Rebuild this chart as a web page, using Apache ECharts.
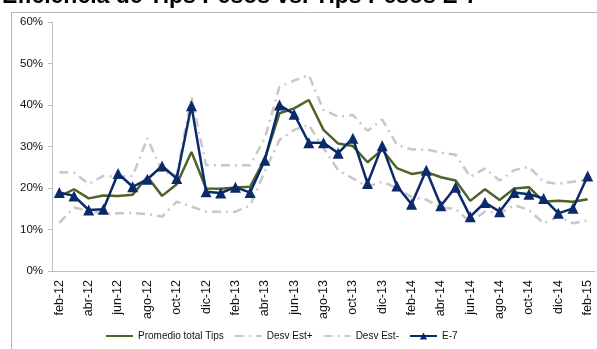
<!DOCTYPE html>
<html>
<head>
<meta charset="utf-8">
<script src="https://cdn.jsdelivr.net/npm/echarts@6/dist/echarts.min.js"></script>
<style>
  html, body { margin: 0; padding: 0; background: #fff; }
  #chart { width: 597px; height: 349px; }
</style>
</head>
<body>
<div id="chart"></div>
<script>
  const months = ['feb-12','mar-12','abr-12','may-12','jun-12','jul-12','ago-12','sep-12','oct-12','nov-12','dic-12',
    'ene-13','feb-13','mar-13','abr-13','may-13','jun-13','jul-13','ago-13','sep-13','oct-13','nov-13','dic-13',
    'ene-14','feb-14','mar-14','abr-14','may-14','jun-14','jul-14','ago-14','sep-14','oct-14','nov-14','dic-14',
    'ene-15','feb-15'];

  const promedio = [17.9,19.7,17.5,18.2,18.1,18.4,22.7,18.1,20.9,28.7,19.9,19.8,20.1,20.3,27.0,38.0,39.2,41.2,34.0,30.7,
    30.1,26.2,29.2,24.8,23.4,23.9,22.6,21.8,16.9,19.7,17.1,19.9,20.2,16.7,16.9,16.7,17.3];
  const desvMas = [23.8,23.7,21.0,22.9,22.7,22.9,32.0,23.9,23.1,42.0,25.5,25.5,25.5,25.5,32.0,44.4,45.9,47.2,38.8,37.2,
    37.6,33.8,36.5,30.4,29.3,29.3,28.5,28.0,22.7,24.7,21.8,24.3,25.1,21.5,21.0,21.5,22.0];
  const desvMenos = [11.6,15.3,14.5,13.8,13.9,14.0,13.7,13.1,16.7,15.5,14.3,14.3,14.3,15.8,24.0,31.6,34.0,35.2,29.6,24.3,
    22.3,20.3,21.5,20.0,17.8,17.2,15.2,15.0,11.8,14.3,13.9,15.9,14.7,11.5,13.1,11.5,12.2];
  const e7 = [18.9,18.1,14.7,14.9,23.5,20.3,22.1,25.3,22.3,39.8,19.1,18.8,20.2,18.9,26.7,40.0,37.8,30.9,30.9,28.4,
    32.0,21.1,30.2,20.5,16.1,24.3,15.7,20.2,13.1,16.5,14.3,18.9,18.5,17.5,13.9,15.1,22.9];

  const font = '"Liberation Sans", Arial, sans-serif';
  const gray = '#c8c8c8';
  const navy = '#0b2a6a';
  const dashDot = [9, 5, 2, 5];

  const chart = echarts.init(document.getElementById('chart'));
  chart.setOption({
    animation: false,
    graphic: [
      { type: 'rect', shape: { x: 11.5, y: 12.5, width: 700, height: 500 },
        style: { fill: 'none', stroke: '#b4b4b4', lineWidth: 1 }, silent: true },
      // title is cut off by the top edge, as in the original picture
      { type: 'text', x: 2, y: 8,
        style: { text: 'Eficiencia de Tips Pesos vs. Tips Pesos E-7', fill: '#000',
          font: 'bold 23px "Liberation Sans", Arial, sans-serif', verticalAlign: 'bottom' } }
    ],
    grid: { left: 52, right: 2, top: 22, bottom: 78 },
    legend: {
      left: 100, top: 326, itemWidth: 27, itemHeight: 9, itemGap: 10,
      textStyle: { fontFamily: font, fontSize: 10, color: '#111' },
      data: [
        { name: 'Promedio total Tips', itemStyle: { opacity: 0 } },
        { name: 'Desv Est+', itemStyle: { opacity: 0 } },
        { name: 'Desv Est-', itemStyle: { opacity: 0 } },
        { name: 'E-7' }
      ]
    },
    xAxis: {
      type: 'category',
      data: months,
      axisLine: { lineStyle: { color: '#bfbfbf', width: 1 } },
      axisTick: { interval: 1, length: 4, lineStyle: { color: '#bfbfbf' } },
      axisLabel: { interval: 1, rotate: 90, margin: 9, fontFamily: font, fontSize: 12.5, color: '#111' }
    },
    yAxis: {
      type: 'value', min: 0, max: 60, interval: 10,
      axisLine: { show: true, lineStyle: { color: '#bfbfbf', width: 1 } },
      axisTick: { show: true, length: 4, lineStyle: { color: '#bfbfbf' } },
      splitLine: { show: false },
      axisLabel: { formatter: '{value}%', margin: 9, fontFamily: font, fontSize: 11.5, color: '#111' }
    },
    series: [
      { name: 'Promedio total Tips', type: 'line', data: promedio, symbol: 'none',
        lineStyle: { color: '#4f6228', width: 2.5 }, itemStyle: { color: '#4f6228' } },
      { name: 'Desv Est+', type: 'line', data: desvMas, symbol: 'none',
        lineStyle: { color: gray, width: 2.5, type: dashDot }, itemStyle: { color: gray } },
      { name: 'Desv Est-', type: 'line', data: desvMenos, symbol: 'none',
        lineStyle: { color: gray, width: 2.5, type: dashDot }, itemStyle: { color: gray } },
      { name: 'E-7', type: 'line', data: e7, symbol: 'triangle', symbolSize: 11, showAllSymbol: true,
        lineStyle: { color: navy, width: 2.5 }, itemStyle: { color: navy } }
    ]
  });
</script>
</body>
</html>
